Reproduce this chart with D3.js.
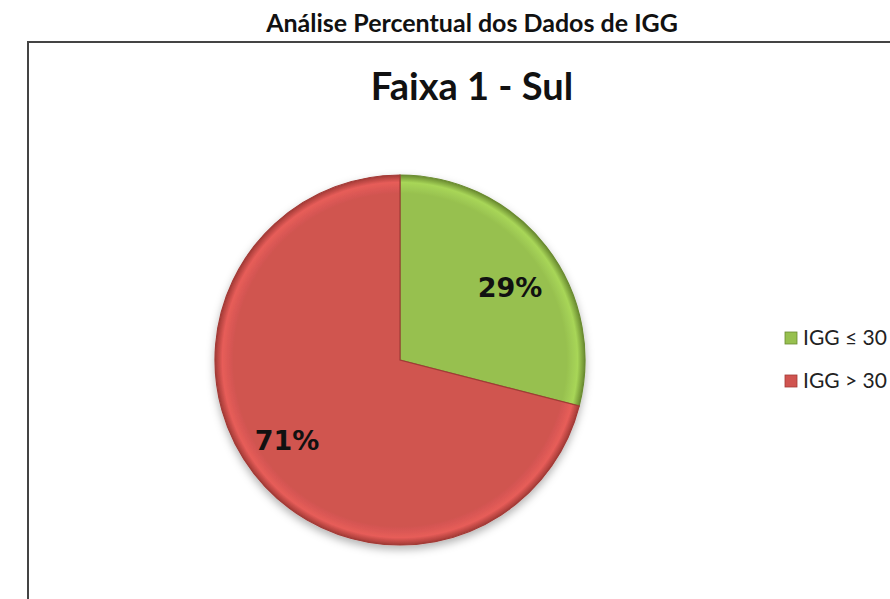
<!DOCTYPE html>
<html><head><meta charset="utf-8">
<script src="https://cdn.jsdelivr.net/npm/d3@7"></script>
<style>body{margin:0;background:#fff}</style>
</head><body>
<script>
const categories = ["IGG ≤ 30", "IGG > 30"];
const values = [29, 71];
const labels = ["29%", "71%"];
const colors = ["#97C04F", "#D05450"];
const darkColors = ["#6A8B30", "#A23A36"];

const W = 890, H = 599;
const svg = d3.select("body").append("svg").attr("width", W).attr("height", H);
const defs = svg.append("defs");

const cx = 400, cy = 360, r = 185;

categories.forEach((c, i) => {
  const g = defs.append("radialGradient").attr("id", "grad" + i)
    .attr("gradientUnits", "userSpaceOnUse")
    .attr("cx", 0).attr("cy", 0).attr("r", r);
  g.append("stop").attr("offset", "0%").attr("stop-color", colors[i]);
  g.append("stop").attr("offset", "90%").attr("stop-color", colors[i]);
  g.append("stop").attr("offset", "96%").attr("stop-color", d3.color(colors[i]).brighter(0.3));
  g.append("stop").attr("offset", "100%").attr("stop-color", darkColors[i]);
});
const f = defs.append("filter").attr("id", "shadow").attr("x", "-20%").attr("y", "-20%").attr("width", "140%").attr("height", "140%");
f.append("feDropShadow").attr("dx", 0).attr("dy", 4).attr("stdDeviation", 4).attr("flood-color", "#000").attr("flood-opacity", 0.3);

// Outer title
svg.append("text").attr("x", 472).attr("y", 32).attr("text-anchor", "middle")
  .attr("font-family", "Lato, 'Open Sans', sans-serif").attr("font-weight", "bold")
  .attr("font-size", 25).attr("fill", "#111").text("Análise Percentual dos Dados de IGG");

// Frame
svg.append("rect").attr("x", 28).attr("y", 42).attr("width", 880).attr("height", 600)
  .attr("fill", "#fff").attr("stroke", "#444").attr("stroke-width", 2);

// Chart title
svg.append("text").attr("x", 472).attr("y", 100).attr("text-anchor", "middle")
  .attr("font-family", "Lato, 'Open Sans', sans-serif").attr("font-weight", "bold")
  .attr("font-size", 38).attr("fill", "#111").text("Faixa 1 - Sul");

const pie = d3.pie().sort(null).value(d => d)(values);
const arc = d3.arc().innerRadius(0).outerRadius(r);
const gp = svg.append("g").attr("transform", `translate(${cx},${cy})`);
gp.append("g").attr("filter", "url(#shadow)").selectAll("path").data(pie).join("path")
  .attr("d", arc)
  .attr("fill", (d, i) => "url(#grad" + i + ")")
  .attr("stroke", (d, i) => darkColors[i]).attr("stroke-width", 1.2);

// Labels
const labelPos = [[510, 297], [287, 450]];
gp.selectAll("text.lbl").data(pie).join("text").attr("class", "lbl")
  .attr("x", (d, i) => labelPos[i][0] - cx).attr("y", (d, i) => labelPos[i][1] - cy)
  .attr("text-anchor", "middle")
  .attr("font-family", "'DejaVu Sans', Verdana, sans-serif").attr("font-weight", "bold")
  .attr("font-size", 27).attr("fill", "#111")
  .text((d, i) => labels[i]);

// Legend
const lg = svg.append("g");
const ly = d3.scalePoint().domain(categories).range([345, 388]);
categories.forEach((c, i) => {
  lg.append("rect").attr("x", 785).attr("y", ly(c) - 13).attr("width", 12).attr("height", 12)
    .attr("fill", colors[i]).attr("stroke", darkColors[i]).attr("stroke-width", 0.8);
  lg.append("text").attr("x", 803).attr("y", ly(c))
    .attr("font-family", "Lato, 'Open Sans', sans-serif").attr("font-size", 21).attr("fill", "#222")
    .text(c);
});
</script>
</body></html>
